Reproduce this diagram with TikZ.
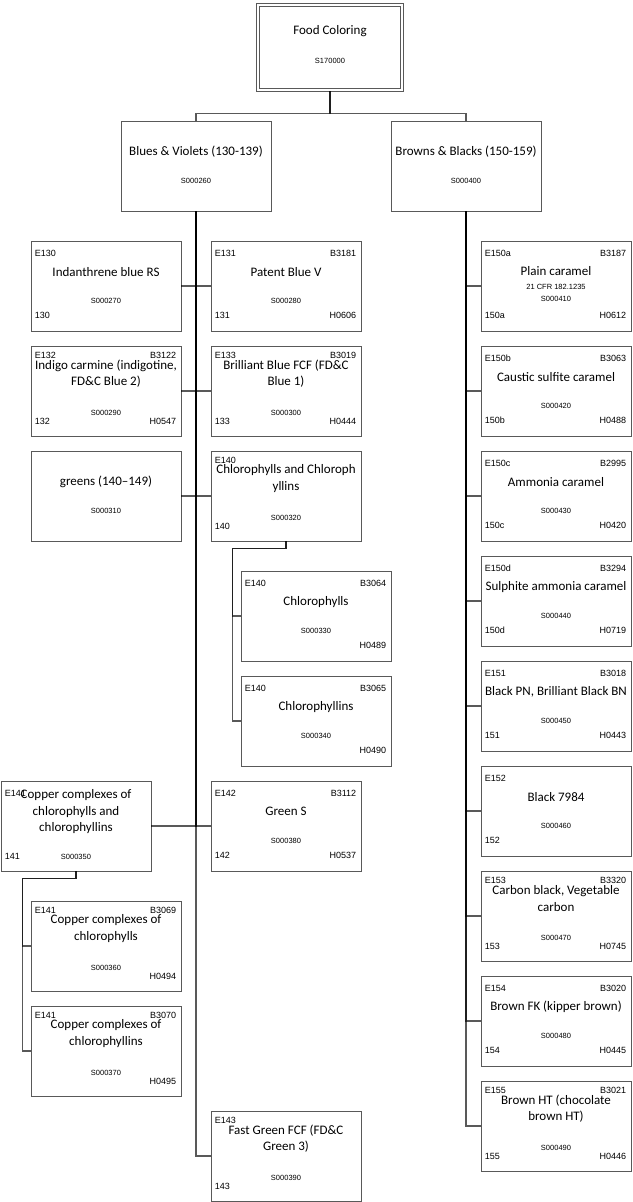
\documentclass[tikz,border=0pt]{standalone}
\usepackage{fontspec}
\setmainfont{Carlito}
\newfontfamily\codefont{Liberation Sans}
\newcommand{\cfrfont}{\codefont\fontsize{7.5}{9}\selectfont}

\tikzset{
  box/.style = {draw=black!65, line width=0.8pt, minimum width=150pt, minimum height=90pt, inner sep=0pt},
  lab/.style = {font=\fontsize{13}{16.5}\selectfont, align=center, inner sep=0pt},
  code/.style = {font=\codefont\fontsize{9}{10}\selectfont, inner sep=0pt},
  scode/.style = {font=\codefont\fontsize{7.5}{9}\selectfont, inner sep=0pt},
  conn/.style = {draw=black, line width=1.1pt, draw opacity=0.65},
}

% one colouring: name, centre, E no., B no., label, S no., number, H no., layout
\newcommand{\fcentry}[9]{%
  \ifcase#9\or
    \def\fcE{12.5}\def\fcL{31}\def\fcS{60}\def\fcN{75}%
  \or
    \def\fcE{10}\def\fcL{28}\def\fcS{67}\def\fcN{76}%
  \or
    \def\fcE{13}\def\fcL{31}\def\fcS{76}\def\fcN{76}%
  \or
    \def\fcE{12.5}\def\fcL{37.5}\def\fcS{58}\def\fcN{75}%
  \fi
  \node[box] (#1) at (#2) {};
  \if\relax\detokenize{#3}\relax\else
    \node[code, anchor=west] (#1-e) at ([xshift=4pt, yshift=-\fcE pt]#1.north west) {#3};\fi
  \if\relax\detokenize{#4}\relax\else
    \node[code, anchor=east] (#1-b) at ([xshift=-5pt, yshift=-\fcE pt]#1.north east) {#4};\fi
  \node[lab] (#1-l) at ([yshift=-\fcL pt]#1.north) {#5};
  \node[scode] (#1-s) at ([yshift=-\fcS pt]#1.north) {#6};
  \if\relax\detokenize{#7}\relax\else
    \node[code, anchor=west] (#1-n) at ([xshift=4pt, yshift=-\fcN pt]#1.north west) {#7};\fi
  \if\relax\detokenize{#8}\relax\else
    \node[code, anchor=east] (#1-h) at ([xshift=-5pt, yshift=-\fcN pt]#1.north east) {#8};\fi
}

\begin{document}
\begin{tikzpicture}[x=1pt, y=-1pt]
    \useasboundingbox (0,0) rectangle (632,1202);

    % Root and groups
    \node[box, minimum width=147pt, minimum height=88pt] (root) at (330,47) {};
    \draw[draw=black!65, line width=0.8pt] ([shift={(3.3pt,-3.3pt)}]root.north west) rectangle ([shift={(-3.3pt,3.3pt)}]root.south east);
    \node[lab] (root-l) at ([yshift=-29pt]root.north) {Food Coloring};
    \node[scode] (root-s) at ([yshift=-58pt]root.north) {S170000};
    \fcentry{blues}{196,166}{}{}{Blues \& Violets (130-139)}{S000260}{}{}{1}
    \fcentry{browns}{466,166}{}{}{Browns \& Blacks (150-159)}{S000400}{}{}{1}

    % Blues & greens
    \fcentry{e130}{106,286}{E130}{}{Indanthrene blue RS}{S000270}{130}{}{1}
    \fcentry{e131}{286,286}{E131}{B3181}{Patent Blue V}{S000280}{131}{H0606}{1}
    \fcentry{e132}{106,391}{E132}{B3122}{Indigo carmine (indigotine,\\FD\&C Blue 2)}{S000290}{132}{H0547}{2}
    \fcentry{e133}{286,391}{E133}{B3019}{Brilliant Blue FCF (FD\&C\\Blue 1)}{S000300}{133}{H0444}{2}
    \fcentry{greens}{106,496}{}{}{greens (140–149)}{S000310}{}{}{1}
    \fcentry{e140}{286,496}{E140}{}{Chlorophylls and Chloroph\\yllins}{S000320}{140}{}{2}
    \fcentry{e140a}{316,616}{E140}{B3064}{Chlorophylls}{S000330}{}{H0489}{1}
    \fcentry{e140b}{316,721}{E140}{B3065}{Chlorophyllins}{S000340}{}{H0490}{1}
    \fcentry{e141}{76,826}{E141}{}{Copper complexes of\\chlorophylls and\\chlorophyllins}{S000350}{141}{}{3}
    \fcentry{e142}{286,826}{E142}{B3112}{Green S}{S000380}{142}{H0537}{1}
    \fcentry{e141a}{106,946}{E141}{B3069}{Copper complexes of\\chlorophylls}{S000360}{}{H0494}{2}
    \fcentry{e141b}{106,1051}{E141}{B3070}{Copper complexes of\\chlorophyllins}{S000370}{}{H0495}{2}
    \fcentry{e143}{286,1156}{E143}{}{Fast Green FCF (FD\&C\\Green 3)}{S000390}{143}{}{2}

    % Browns & blacks
    \fcentry{e150a}{556,286}{E150a}{B3187}{Plain caramel\\[-3pt]{\cfrfont 21 CFR 182.1235}}{S000410}{150a}{H0612}{4}
    \fcentry{e150b}{556,391}{E150b}{B3063}{Caustic sulfite caramel}{S000420}{150b}{H0488}{1}
    \fcentry{e150c}{556,496}{E150c}{B2995}{Ammonia caramel}{S000430}{150c}{H0420}{1}
    \fcentry{e150d}{556,601}{E150d}{B3294}{Sulphite ammonia caramel}{S000440}{150d}{H0719}{1}
    \fcentry{e151}{556,706}{E151}{B3018}{Black PN, Brilliant Black BN}{S000450}{151}{H0443}{1}
    \fcentry{e152}{556,811}{E152}{}{Black 7984}{S000460}{152}{}{1}
    \fcentry{e153}{556,916}{E153}{B3320}{Carbon black, Vegetable\\carbon}{S000470}{153}{H0745}{2}
    \fcentry{e154}{556,1021}{E154}{B3020}{Brown FK (kipper brown)}{S000480}{154}{H0445}{1}
    \fcentry{e155}{556,1126}{E155}{B3021}{Brown HT (chocolate\\brown HT)}{S000490}{155}{H0446}{2}

    % Connectors
    \draw[conn] (root.south) -- ++(0,22) -| (blues.north);
    \draw[conn] (root.south) -- ++(0,22) -| (browns.north);

    \draw[conn] (blues.south) |- (e130.east);
    \draw[conn] (blues.south) |- (e131.west);
    \draw[conn] (blues.south) |- (e132.east);
    \draw[conn] (blues.south) |- (e133.west);
    \draw[conn] (blues.south) |- (greens.east);
    \draw[conn] (blues.south) |- (e140.west);
    \draw[conn] (blues.south) |- (e141.east);
    \draw[conn] (blues.south) |- (e142.west);
    \draw[conn] (blues.south) |- (e143.west);

    \draw[conn] (e140.south) -- ++(0,7) -| ([xshift=-8pt]e140a.west) -- (e140a.west);
    \draw[conn] (e140.south) -- ++(0,7) -| ([xshift=-8pt]e140b.west) -- (e140b.west);
    \draw[conn] (e141.south) -- ++(0,7) -| ([xshift=-8pt]e141a.west) -- (e141a.west);
    \draw[conn] (e141.south) -- ++(0,7) -| ([xshift=-8pt]e141b.west) -- (e141b.west);

    \draw[conn] (browns.south) |- (e150a.west);
    \draw[conn] (browns.south) |- (e150b.west);
    \draw[conn] (browns.south) |- (e150c.west);
    \draw[conn] (browns.south) |- (e150d.west);
    \draw[conn] (browns.south) |- (e151.west);
    \draw[conn] (browns.south) |- (e152.west);
    \draw[conn] (browns.south) |- (e153.west);
    \draw[conn] (browns.south) |- (e154.west);
    \draw[conn] (browns.south) |- (e155.west);
\end{tikzpicture}
\end{document}
